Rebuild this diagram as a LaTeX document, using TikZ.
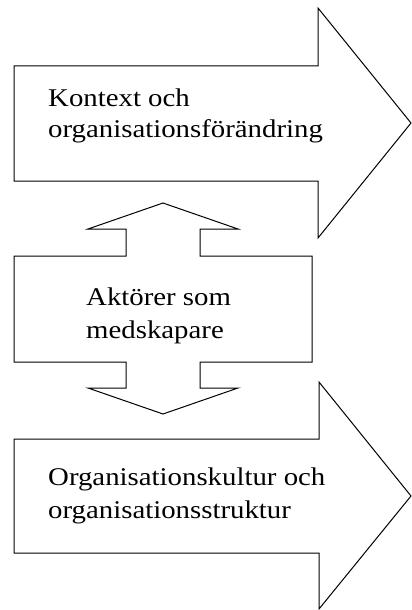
\documentclass[tikz,border=0pt]{standalone}
\usepackage{fontspec}
\setmainfont[FakeStretch=1.13]{Liberation Serif}
\begin{document}
\begin{tikzpicture}[x=1pt,y=-1pt,
  shape line/.style={draw=black,line width=1pt,line join=miter,fill=white},
  lbl/.style={inner sep=0pt,anchor=base west,font=\fontsize{25.5}{31}\selectfont}]
\useasboundingbox (0,0) rectangle (412,610);
% top arrow
\draw[shape line] (14,66) -- (318,66) -- (318,8) -- (411,123) -- (318,238) -- (318,181) -- (14,181) -- cycle;
% middle double arrow
\draw[shape line] (163,203) -- (238,229) -- (200,229) -- (200,256) -- (312,256) -- (312,362) -- (200,362) -- (200,388) -- (238,388) -- (163,414) -- (88,388) -- (126,388) -- (126,362) -- (14,362) -- (14,256) -- (126,256) -- (126,229) -- (88,229) -- cycle;
% bottom arrow
\draw[shape line] (14,439) -- (319,439) -- (319,382) -- (411,496) -- (319,609) -- (319,553) -- (14,553) -- cycle;
% texts
\node[lbl] (t1a) at (48,106) {Kontext och};
\node[lbl] (t1b) at (48,137) {organisationsförändring};
\node[lbl] (t2a) at (86,305) {Aktörer som};
\node[lbl] (t2b) at (86,338) {medskapare};
\node[lbl] (t3a) at (48,485) {Organisationskultur och};
\node[lbl] (t3b) at (48,518) {organisationsstruktur};
\end{tikzpicture}
\end{document}
